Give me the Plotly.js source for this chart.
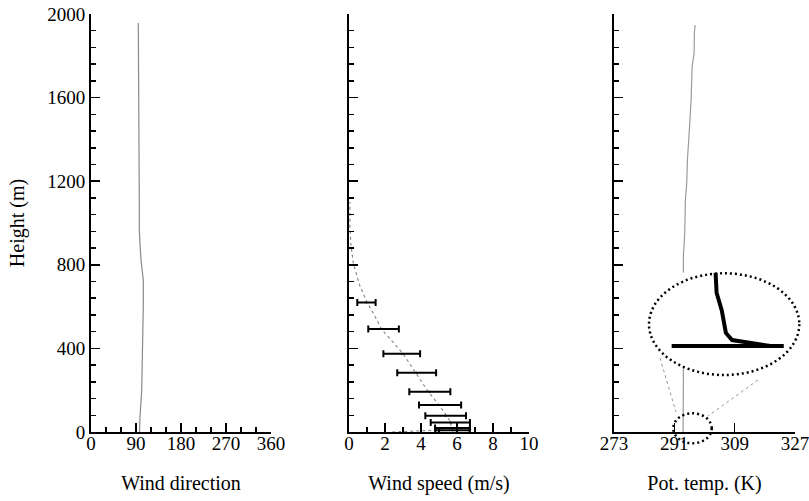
<!DOCTYPE html>
<html>
<head>
<meta charset="utf-8">
<script src="https://cdn.plot.ly/plotly-3.0.1.min.js"></script>
<style>html,body{margin:0;padding:0;background:#fff;}#chart{width:809px;height:501px;}</style>
</head>
<body>
<div id="chart"></div>
<script>
// ---- Panel 1: wind direction profile ----
var dirHeights = [0, 72, 200, 400, 600, 727, 823, 900, 966, 1100, 1300, 1500, 1700, 1957];
var dirValues  = [97, 98, 101.4, 103.4, 104.6, 104.6, 100, 98, 96.6, 96.6, 96, 95.4, 95, 94.6];

// ---- Panel 2: wind speed profile ----
var spdHeights = [0, 3, 8, 20, 43, 80, 129, 193, 284, 375, 493, 569, 620, 700, 808, 900, 1000, 1100];
var spdValues  = [2.4, 3.3, 4.6, 5.6, 5.7, 5.4, 5.0, 4.4, 3.7, 3.0, 1.8, 1.35, 1.0, 0.6, 0.24, 0.1, 0.05, 0.05];

// observed wind speed ranges (centre and half-spread)
var obsHeights = [620, 493, 375, 284, 193, 129, 78, 45, 19, 8];
var obsMeans   = [0.97, 1.92, 2.93, 3.76, 4.49, 5.06, 5.37, 5.63, 5.75, 5.75];
var obsSpread  = [0.51, 0.85, 1.02, 1.08, 1.14, 1.17, 1.13, 1.09, 0.97, 0.95];

// ---- Panel 3: potential temperature profile ----
var ptHeights = [0, 100, 234, 400, 839, 952, 1110, 1191, 1300, 1450, 1589, 1748, 1812, 1915, 1947];
var ptValues  = [293.6, 293.7, 293.7, 293.7, 293.7, 294.1, 294.3, 294.7, 294.9, 295.5, 296.0, 296.3, 296.9, 297.0, 297.2];

// inset: near-surface potential temperature (zoom)
var insetHeights = [62, 45, 30, 19, 11, 5, 3.6, 2.3, 1, 0];
var insetValues  = [294.7, 294.8, 295.3, 295.5, 295.7, 296.3, 297.4, 298.7, 299.5, 300.0];
var groundTemps  = [290.45, 301.3];
var groundLevel  = [0, 0];

// tick labels
var dirTicks = [0, 90, 180, 270, 360];
var spdTicks = [0, 2, 4, 6, 8, 10];
var ptTicks  = [273, 291, 309, 327];
var hTicks   = [0, 400, 800, 1200, 1600, 2000];

var FONT = '"Liberation Serif", "Times New Roman", "DejaVu Serif", serif';

var traces = [
  {x: dirValues, y: dirHeights, xaxis: 'x', yaxis: 'y', mode: 'lines',
   line: {color: '#8a8a8a', width: 1.2}, hoverinfo: 'skip'},
  {x: spdValues, y: spdHeights, xaxis: 'x2', yaxis: 'y2', mode: 'lines',
   line: {color: '#8a8a8a', width: 1.2, dash: 'dot'}, hoverinfo: 'skip'},
  {x: obsMeans, y: obsHeights, xaxis: 'x2', yaxis: 'y2', mode: 'markers',
   marker: {size: 2, color: '#000'},
   error_x: {type: 'data', array: obsSpread, visible: true, color: '#000', thickness: 2, width: 3.5},
   hoverinfo: 'skip'},
  {x: ptValues, y: ptHeights, xaxis: 'x3', yaxis: 'y3', mode: 'lines',
   line: {color: '#9a9a9a', width: 1.2}, hoverinfo: 'skip'},
  {x: insetValues, y: insetHeights, xaxis: 'x4', yaxis: 'y4', mode: 'lines',
   line: {color: '#000', width: 4}, hoverinfo: 'skip'},
  {x: groundTemps, y: groundLevel, xaxis: 'x4', yaxis: 'y4', mode: 'lines',
   line: {color: '#000', width: 4}, hoverinfo: 'skip'}
];

function xax(dom, rng, vals, minorD, anchor, title) {
  var a = {
    domain: dom, range: rng, anchor: anchor,
    tickmode: 'array', tickvals: vals, ticktext: vals.map(String),
    ticks: 'inside', ticklen: 9, tickwidth: 1.5, tickcolor: '#000',
    ticklabelstandoff: -7, ticklabeloverflow: 'allow',
    showline: true, linecolor: '#000', linewidth: 2,
    showgrid: false, zeroline: false,
    tickfont: {family: FONT, size: 19, color: '#000'},
    title: {text: title, font: {family: FONT, size: 20, color: '#000'}, standoff: 23}
  };
  if (minorD) a.minor = {ticks: 'inside', ticklen: 5, tickwidth: 1.5, tickcolor: '#000', dtick: minorD, tick0: 0, showgrid: false};
  return a;
}
function yax(anchor, labels, title) {
  var a = {
    domain: [1 - 432/501, 1 - 14/501], range: [0, 2000], anchor: anchor,
    tickmode: 'array', tickvals: hTicks, ticktext: hTicks.map(String),
    showticklabels: labels,
    ticks: 'inside', ticklen: 9, tickwidth: 1.5, tickcolor: '#000',
    showline: true, linecolor: '#000', linewidth: 2,
    showgrid: false, zeroline: false,
    tickfont: {family: FONT, size: 19, color: '#000'},
    minor: {ticks: 'inside', ticklen: 5, tickwidth: 1.5, tickcolor: '#000', dtick: 80, tick0: 0, showgrid: false}
  };
  if (title) a.title = {text: title, font: {family: FONT, size: 20, color: '#000'}, standoff: 17};
  return a;
}

var layout = {
  width: 809, height: 501,
  margin: {l: 0, r: 0, t: 0, b: 0},
  paper_bgcolor: '#fff', plot_bgcolor: '#fff',
  showlegend: false,
  font: {family: FONT, color: '#000'},
  xaxis: xax([91/809, 271/809], [0, 360], dirTicks, 30, 'y', 'Wind direction'),
  yaxis: yax('x', true, 'Height (m)'),
  xaxis2: xax([349/809, 529/809], [0, 10], spdTicks, 1, 'y2', 'Wind speed (m/s)'),
  yaxis2: yax('x2', false, null),
  xaxis3: xax([614/809, 795/809], [273, 327], ptTicks, null, 'y3', 'Pot. temp. (K)'),
  yaxis3: yax('x3', false, null),
  xaxis4: {domain: [667/809, 791/809], range: [290, 302], anchor: 'y4', visible: false, fixedrange: true},
  yaxis4: {domain: [1 - 367.3/501, 1 - 272.6/501], range: [-18, 62], anchor: 'x4', visible: false, fixedrange: true},
  shapes: [
    {type: 'circle', xref: 'paper', yref: 'paper', x0: 649/809, x1: 799.3/809, y0: 1 - 375/501, y1: 1 - 273.3/501,
     line: {color: '#000', width: 2.5, dash: '2px,3px'}, layer: 'above'},
    {type: 'circle', xref: 'paper', yref: 'paper', x0: 673.3/809, x1: 711.7/809, y0: 1 - 443.3/501, y1: 1 - 413.3/501,
     line: {color: '#000', width: 2.5, dash: '2px,3px'}, layer: 'above'},
    {type: 'line', xref: 'paper', yref: 'paper', x0: 660/809, y0: 1 - 358/501, x1: 676/809, y1: 1 - 412/501,
     line: {color: '#999', width: 1, dash: 'dot'}, layer: 'above'},
    {type: 'line', xref: 'paper', yref: 'paper', x0: 758/809, y0: 1 - 380/501, x1: 708/809, y1: 1 - 416/501,
     line: {color: '#999', width: 1, dash: 'dot'}, layer: 'above'}
  ]
};

Plotly.newPlot('chart', traces, layout, {staticPlot: true, displayModeBar: false});
</script>
</body>
</html>
